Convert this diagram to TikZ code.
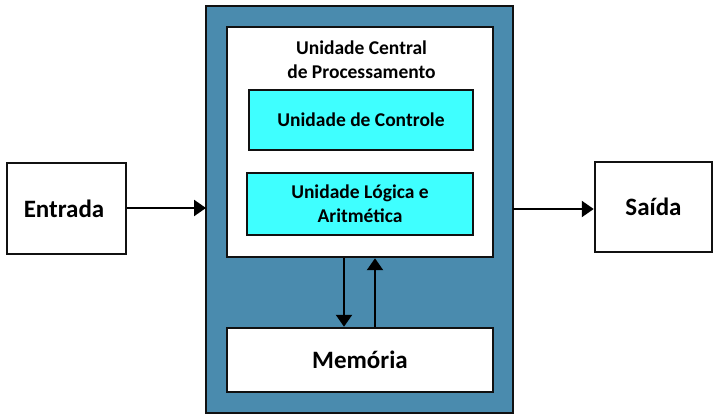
\documentclass[tikz,border=0pt]{standalone}
\usepackage{fontspec}
\setmainfont{Carlito}
\usetikzlibrary{arrows.meta}
\definecolor{cpublue}{HTML}{4A8BAE}
\definecolor{unitcyan}{HTML}{3FFFFF}
\definecolor{edge}{HTML}{111111}
\begin{document}
\begin{tikzpicture}[x=1pt,y=-1pt,
  blockbox/.style={draw=edge,line width=2.5pt,fill=white,inner sep=0pt},
  unitbox/.style={draw=edge,line width=2.5pt,fill=unitcyan,inner sep=0pt},
  flow/.style={line width=2.3pt,-{Triangle[length=12pt,width=16pt]}},
  bigtxt/.style={font=\fontsize{25}{28}\selectfont\bfseries},
  smalltxt/.style={font=\fontsize{19.5}{24}\selectfont\bfseries,align=center}]
\useasboundingbox (0,0) rectangle (722,419);
% outer processor enclosure
\draw[draw=edge,line width=2.5pt,fill=cpublue] (206,6) rectangle (513,413);
\node[blockbox,minimum width=119pt,minimum height=91pt] (ent) at (66.5,208.5) {};
\node[bigtxt] at (64,209) {Entrada};
\node[blockbox,minimum width=117pt,minimum height=90pt] (sai) at (653.5,207) {};
\node[bigtxt] at (sai.center) {Saída};
% CPU block
\node[blockbox,minimum width=266pt,minimum height=230pt] (cpu) at (360,142) {};
\node[smalltxt] (title) at (361.5,60) {Unidade Central\\de Processamento};
\node[unitbox,minimum width=224pt,minimum height=60pt] (uc) at (361,120) {};
\node[smalltxt] at (uc.center) {Unidade de Controle};
\node[unitbox,minimum width=226pt,minimum height=62pt] (ula) at (360,204) {};
\node[smalltxt] at (ula.center) {Unidade Lógica e\\Aritmética};
% memory
\node[blockbox,minimum width=266pt,minimum height=64pt] (mem) at (360,360) {};
\node[bigtxt] at (mem.center) {Memória};
% connectors
\coordinate (inR) at (206,208);
\coordinate (outL) at (513,209);
\draw[flow] (ent.east |- inR) -- (inR);
\draw[flow] (outL) -- (sai.west |- outL);
\draw[flow] (cpu.south -| 344,0) -- (mem.north -| 344,0);
\draw[flow] (mem.north -| 375,0) -- (cpu.south -| 375,0);
\end{tikzpicture}
\end{document}
